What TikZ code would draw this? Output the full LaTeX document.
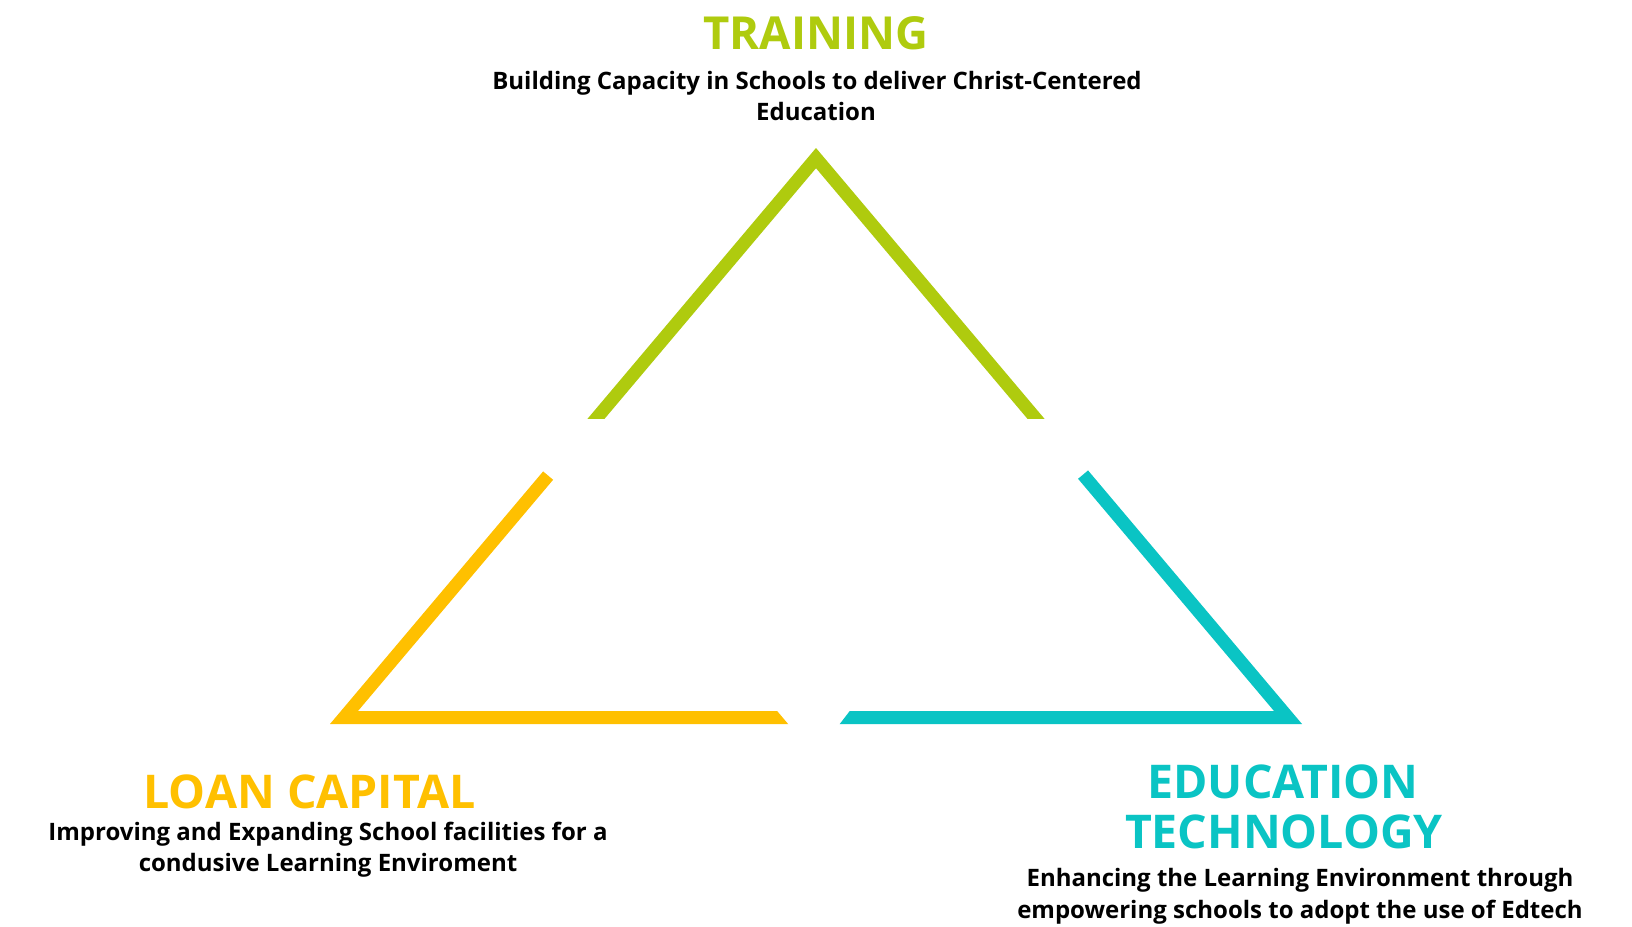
\documentclass[tikz,border=0pt]{standalone}
\usepackage{fontspec}
\setmainfont{Open Sans}
\definecolor{trgreen}{HTML}{AFCB0E}
\definecolor{lcyellow}{HTML}{FFC000}
\definecolor{etcyan}{HTML}{0AC4C4}
\newcommand\ringpath{(816,148) -- (330,724) -- (1302,724) -- cycle (816,168.2) -- (358,711) -- (1274,711) -- cycle}
\begin{document}
\begin{tikzpicture}[x=1pt,y=-1pt,
  head/.style={font=\bfseries\fontsize{46.5}{46.5}\selectfont, anchor=base, inner sep=0pt},
  sub/.style={font=\bfseries\fontsize{24}{24}\selectfont, anchor=base, inner sep=0pt, text=black}]
\useasboundingbox (0,0) rectangle (1632,926);
\fill[white] (0,0) rectangle (1632,926);
% green part
\begin{scope}
  \clip (0,0) rectangle (1632,418.5);
  \fill[trgreen, even odd rule] \ringpath;
\end{scope}
% yellow part
\begin{scope}
  \clip (0,409) -- (468.4,408.7) -- (600.2,519.3) -- (683,600) -- (800,738) -- (0,738) -- cycle;
  \fill[lcyellow, even odd rule] \ringpath;
\end{scope}
% cyan part
\begin{scope}
  \clip (1632,409) -- (1161.6,408.7) -- (1029.8,519.3) -- (935,600) -- (829,738) -- (1632,738) -- cycle;
  \fill[etcyan, even odd rule] \ringpath;
\end{scope}
% texts
\node[head, text=trgreen, font=\bfseries\fontsize{45.5}{45.5}\selectfont] (tr) at (816,49.5) {TRAINING};
\node[sub] (tr1) at (817,89) {Building Capacity in Schools to deliver Christ-Centered};
\node[sub] (tr2) at (816,120.5) {Education};
\node[head, text=lcyellow] (lc) at (309.5,808) {LOAN CAPITAL};
\node[sub] (lc1) at (328,840) {Improving and Expanding School facilities for a};
\node[sub] (lc2) at (328,871) {condusive Learning Enviroment};
\node[head, text=etcyan] (et1) at (1283,798) {EDUCATION};
\node[head, text=etcyan] (et2) at (1284,848) {TECHNOLOGY};
\node[sub] (et3) at (1300,886) {Enhancing the Learning Environment through};
\node[sub] (et4) at (1300,918) {empowering schools to adopt the use of Edtech};
\end{tikzpicture}
\end{document}
